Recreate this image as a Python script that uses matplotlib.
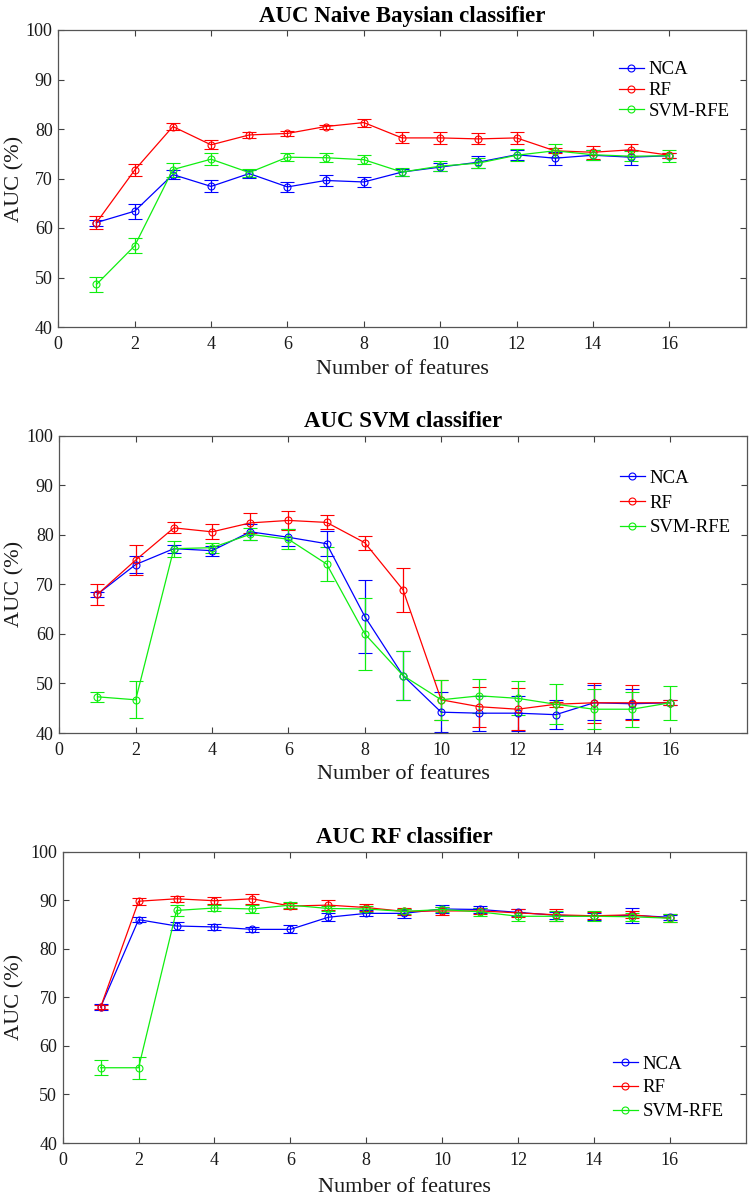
import matplotlib
matplotlib.use("Agg")
import matplotlib.pyplot as plt
from matplotlib.lines import Line2D

plt.rcParams['font.family'] = ['Liberation Serif', 'DejaVu Serif']

features = list(range(1, 17))
methods = ["NCA", "RF", "SVM-RFE"]
titles = ["AUC Naive Baysian classifier", "AUC SVM classifier", "AUC RF classifier"]
x_ticks = [0, 2, 4, 6, 8, 10, 12, 14, 16]
y_ticks = [40, 50, 60, 70, 80, 90, 100]

# Naive Bayes
nb_nca = [61.1, 63.4, 70.8, 68.4, 71.0, 68.3, 69.6, 69.3, 71.3, 72.3, 73.3, 74.8, 74.1, 74.7, 74.3, 74.6]
nb_nca_err = [0.6, 1.5, 1.0, 1.2, 0.8, 1.0, 1.2, 1.0, 0.7, 0.8, 1.2, 1.0, 1.3, 1.0, 1.5, 0.5]
nb_rf = [61.1, 71.7, 80.5, 76.8, 78.8, 79.1, 80.5, 81.3, 78.2, 78.2, 78.0, 78.2, 75.6, 75.3, 75.8, 74.7]
nb_rf_err = [1.3, 1.2, 0.8, 0.9, 0.6, 0.5, 0.4, 0.8, 1.1, 1.2, 1.1, 1.2, 0.5, 1.3, 1.2, 0.5]
nb_svm = [48.6, 56.4, 71.8, 73.9, 71.2, 74.3, 74.2, 73.8, 71.3, 72.5, 73.1, 74.7, 75.6, 74.8, 74.5, 74.6]
nb_svm_err = [1.5, 1.5, 1.4, 1.2, 0.8, 0.8, 0.9, 0.9, 0.8, 1.0, 1.0, 1.2, 1.3, 1.0, 1.0, 1.2]

# SVM
svm_nca = [68.0, 74.0, 77.2, 76.8, 80.6, 79.5, 78.2, 63.5, 51.6, 44.2, 44.0, 44.0, 43.7, 46.1, 45.9, 46.1]
svm_nca_err = [0.5, 1.8, 0.8, 1.0, 1.6, 1.7, 2.5, 7.4, 5.0, 4.0, 3.5, 3.5, 2.9, 3.5, 3.0, 0.5]
svm_rf = [68.0, 74.9, 81.4, 80.6, 82.4, 82.9, 82.5, 78.4, 68.9, 46.7, 45.3, 44.8, 45.8, 46.1, 46.1, 46.1]
svm_rf_err = [2.1, 3.0, 1.1, 1.5, 2.0, 1.9, 1.4, 1.4, 4.4, 4.0, 4.0, 4.2, 0.5, 4.0, 3.5, 0.5]
svm_svm = [47.3, 46.7, 77.2, 77.4, 80.1, 79.1, 74.1, 60.0, 51.6, 46.7, 47.5, 47.0, 45.8, 44.8, 44.8, 46.1]
svm_svm_err = [1.0, 3.7, 1.6, 1.0, 1.2, 2.0, 3.4, 7.3, 5.0, 4.0, 3.4, 3.4, 4.0, 4.0, 3.5, 3.4]

# RF
rf_nca = [68.0, 86.0, 84.7, 84.5, 84.0, 84.0, 86.5, 87.3, 87.3, 88.2, 88.1, 87.5, 86.9, 86.7, 86.9, 86.5]
rf_nca_err = [0.6, 0.5, 0.8, 0.7, 0.5, 0.8, 0.8, 0.6, 1.0, 0.8, 0.8, 0.7, 0.7, 0.7, 1.5, 0.5]
rf_rf = [68.0, 89.8, 90.3, 89.9, 90.3, 88.8, 89.0, 88.5, 87.7, 87.8, 87.8, 87.4, 87.0, 86.8, 87.0, 86.3]
rf_rf_err = [0.5, 0.7, 0.6, 0.7, 1.0, 0.6, 1.0, 0.7, 0.7, 0.9, 0.6, 0.8, 1.2, 0.7, 0.7, 0.8]
rf_svm = [55.5, 55.5, 87.9, 88.4, 88.2, 89.0, 88.3, 88.2, 87.7, 88.1, 87.6, 86.7, 86.7, 86.7, 86.6, 86.3]
rf_svm_err = [1.5, 2.3, 1.2, 0.6, 0.8, 0.6, 0.6, 0.7, 0.5, 0.6, 0.8, 0.9, 1.0, 1.0, 0.8, 0.8]

panels = [
    ([nb_nca, nb_rf, nb_svm], [nb_nca_err, nb_rf_err, nb_svm_err]),
    ([svm_nca, svm_rf, svm_svm], [svm_nca_err, svm_rf_err, svm_svm_err]),
    ([rf_nca, rf_rf, rf_svm], [rf_nca_err, rf_rf_err, rf_svm_err]),
]
colors = ['#0000ff', '#ff0000', '#10ee10']

W, H = 751, 1198
fig = plt.figure(figsize=(W / 100, H / 100), dpi=100)

# axes boxes in pixels: left, top, right, bottom
boxes = [(58.3, 30, 745.7, 327), (59.3, 435.7, 746.7, 733), (62.7, 851.7, 745.7, 1143)]
# legend anchors (axes fraction, upper-left of legend) and spacing
leg_anchor = [(0.815, 0.895), (0.815, 0.885), (0.805, 0.30)]
leg_spacing = [0.2, 0.4, 0.35]
xlabel_pads = [5, 4, 6.5]

for i, (box, (vals, errs)) in enumerate(zip(boxes, panels)):
    l, t, r, b = box
    ax = fig.add_axes([l / W, 1 - b / H, (r - l) / W, (b - t) / H])
    for name, v, e, c in zip(methods, vals, errs, colors):
        ax.errorbar(features, v, yerr=e, color=c, lw=0.9, elinewidth=0.9,
                    capsize=5, capthick=0.9, marker='o', markersize=5,
                    markerfacecolor='none', markeredgecolor=c, markeredgewidth=0.8)
    ax.set_xlim(0, 18)
    ax.set_ylim(40, 100)
    ax.set_xticks(x_ticks)
    ax.set_yticks(y_ticks)
    ax.tick_params(direction='in', length=4, width=0.8, top=True, right=True,
                   labelsize=13, colors='#404040', labelcolor='#1a1a1a')
    ax.tick_params(axis='x', pad=6.5)
    ax.tick_params(axis='y', pad=4)
    for s in ax.spines.values():
        s.set_color('#555555')
        s.set_linewidth(0.9)
    ax.set_xlabel('Number of features', fontsize=16, color='#1a1a1a',
                  labelpad=xlabel_pads[i])
    ax.set_ylabel('AUC (%)', fontsize=16, color='#1a1a1a')
    ax.yaxis.set_label_coords((24 - l) / (r - l), 0.5)
    ax.set_title(titles[i], fontsize=16.5, fontweight='bold', pad=6)
    handles = [Line2D([], [], color=c, lw=0.9, marker='o', markersize=5,
                      markerfacecolor='none', markeredgecolor=c, markeredgewidth=0.8)
               for c in colors]
    ax.legend(handles, methods, loc='upper left', bbox_to_anchor=leg_anchor[i],
              frameon=False, fontsize=13.5, handlelength=1.35, handletextpad=0.25,
              labelspacing=leg_spacing[i], borderpad=0, borderaxespad=0)

fig.savefig('out.png', dpi=100, facecolor='white')
